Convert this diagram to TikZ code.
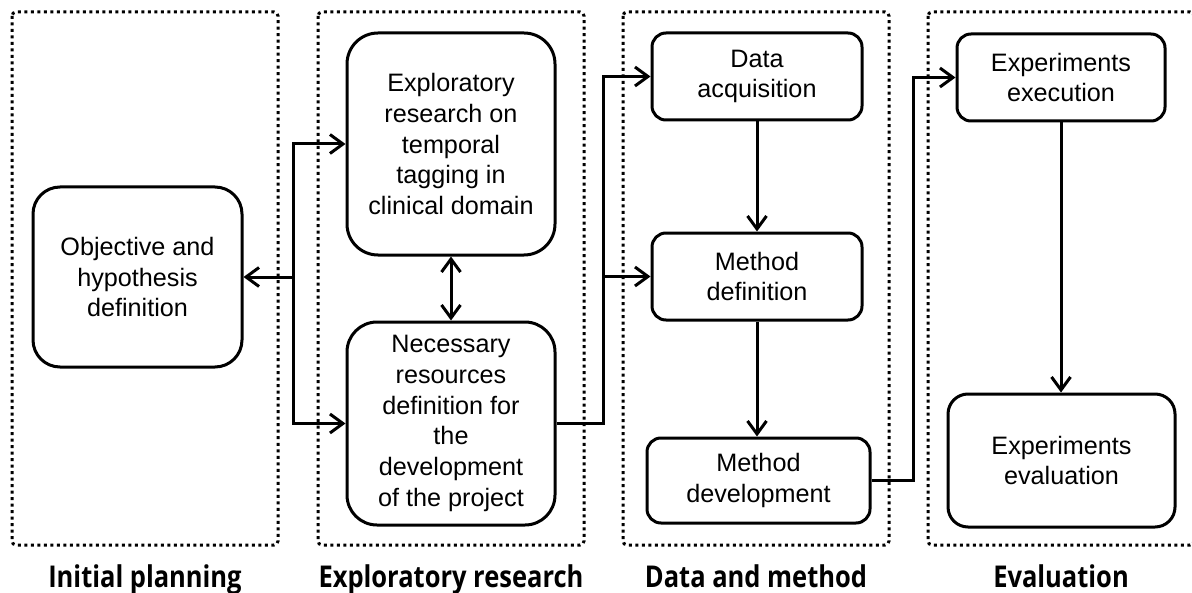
\documentclass[tikz,border=0pt]{standalone}
\usepackage{fontspec}
\setmainfont{Liberation Sans}
\newfontfamily\labfont{Open Sans}
\usetikzlibrary{arrows.meta,calc}
\begin{document}
\begin{tikzpicture}[x=0.5pt,y=-0.5pt,
  box/.style={draw, line width=1.5pt, align=center, inner sep=0pt,
    font=\fontsize{12.6}{15.4}\selectfont},
  frame/.style={draw, line width=1.5pt, dash pattern=on 1.5pt off 1.75pt, rounded corners=2pt},
  tip/.tip={Straight Barb[length=6.5pt,width=9.5pt]},
  arr/.style={line width=1.5pt, -tip},
  dbl/.style={line width=1.5pt, tip-tip},
  lab/.style={font=\labfont\bfseries\fontsize{15}{17}\selectfont, anchor=base, inner sep=0pt}]
\useasboundingbox (0,0) rectangle (1192,593);
% frames
\draw[frame] (12,12) rectangle (278,545);
\draw[frame] (318,12) rectangle (584,545);
\draw[frame] (623,12) rectangle (889,545);
\draw[frame] (928,12) rectangle (1194,545);
% boxes
\node[box, minimum width=104.5pt, minimum height=90pt, rounded corners=13.5pt] (obj) at (137.5,277)
  {Objective and\\hypothesis\\definition};
\node[box, minimum width=104pt, minimum height=111pt, rounded corners=15.5pt] (expl) at (451,144)
  {Exploratory\\research on\\temporal\\tagging in\\clinical domain};
\node[box, minimum width=104pt, minimum height=101.5pt, rounded corners=15pt] (nec) at (451,423.5)
  {Necessary\\resources\\definition for\\the\\development\\of the project};
\node[box, minimum width=105pt, minimum height=43.5pt, rounded corners=7pt] (dacq) at (757,76.5)
  {Data\\acquisition};
\node[box, minimum width=105pt, minimum height=43.5pt, rounded corners=7pt] (mdef) at (757,276.5)
  {Method\\definition};
\node[box, minimum width=111.5pt, minimum height=42.5pt, rounded corners=7pt] (mdev) at (758.5,480.5)
  {Method\\development};
\node[box, minimum width=104pt, minimum height=43.5pt, rounded corners=7pt] (exex) at (1061,77.5)
  {Experiments\\execution};
\node[box, minimum width=113.5pt, minimum height=66.5pt, rounded corners=10pt] (exev) at (1061.5,460.5)
  {Experiments\\evaluation};
% junctions
\coordinate (j1) at (293,277);
\coordinate (j2) at (603,276.5);
\coordinate (j3) at (913,480.5);
% connectors
\draw[arr] (j1) -- (obj.east);
\draw[arr] (j1) |- (expl.west);
\draw[arr] (j1) |- (nec.west);
\draw[dbl] (expl.south) -- (nec.north);
\draw[arr] (nec.east) -- (nec.east -| j2) |- (dacq.west);
\draw[arr] (j2) -- (mdef.west);
\draw[arr] (dacq.south) -- (mdef.north);
\draw[arr] (mdef.south) -- (mdef.south |- mdev.north);
\draw[arr] (mdev.east) -- (j3) |- (exex.west);
\draw[arr] (exex.south) -- (exex.south |- exev.north);
% labels
\node[lab] (l1) at (145,587) {\scalebox{0.85}[1]{Initial planning}};
\node[lab] (l2) at (451,587) {\scalebox{0.85}[1]{Exploratory research}};
\node[lab] (l3) at (756,587) {\scalebox{0.85}[1]{Data and method}};
\node[lab] (l4) at (1061,587) {\scalebox{0.85}[1]{Evaluation}};
\end{tikzpicture}
\end{document}
